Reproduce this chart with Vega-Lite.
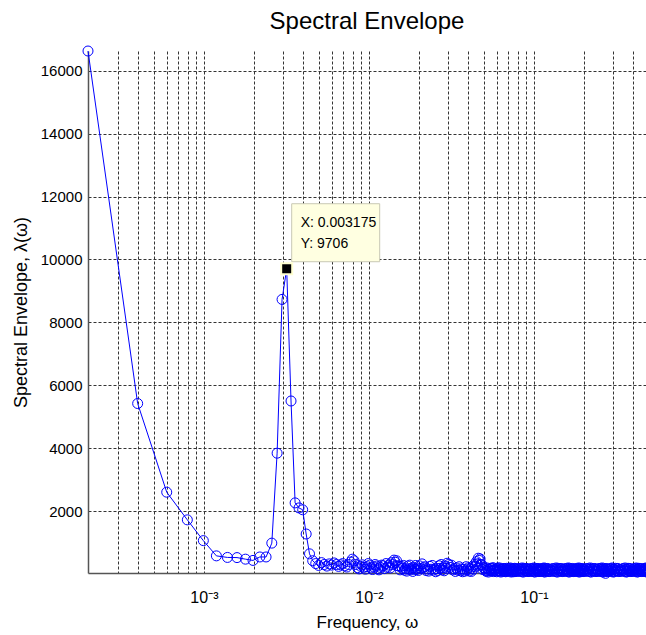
{
"$schema": "https://vega.github.io/schema/vega-lite/v6.json",
"width": 558, "height": 522,
"autosize": {"type": "none"},
"padding": {"left": 88, "top": 51, "right": 0, "bottom": 62},
"background": "white",
"config": {"view": {"stroke": null}, "font": "Liberation Sans"},
"title": {"text": "Spectral Envelope", "fontSize": 24, "font": "Liberation Sans", "fontWeight": "normal", "color": "black", "anchor": "middle", "frame": "group", "offset": 10},
"datasets": {
"env": [
{"f":0.000198413,"s":16630},{"f":0.000396825,"s":5420},{"f":0.000595238,"s":2600},{"f":0.000793651,"s":1720},{"f":0.000992063,"s":1060},
{"f":0.00119048,"s":575},{"f":0.00138889,"s":525},{"f":0.0015873,"s":520},{"f":0.00178571,"s":470},{"f":0.00198413,"s":430},
{"f":0.00218254,"s":540},{"f":0.00238095,"s":540},{"f":0.00257937,"s":980},{"f":0.00277778,"s":3840},{"f":0.00297619,"s":8730},
{"f":0.0031746,"s":9706},{"f":0.00337302,"s":5500},{"f":0.00357143,"s":2260},{"f":0.00376984,"s":2100},{"f":0.00396825,"s":2040},
{"f":0.00416667,"s":1270},{"f":0.00436508,"s":640},{"f":0.00456349,"s":420},{"f":0.0047619,"s":330},{"f":0.00496032,"s":270},
{"f":0.00515873,"s":360},{"f":0.00535714,"s":300},{"f":0.00555556,"s":250},{"f":0.00575397,"s":320},{"f":0.00595238,"s":280},
{"f":0.00615079,"s":350},{"f":0.0063492,"s":300},{"f":0.00654762,"s":240},{"f":0.00674603,"s":290},{"f":0.00694444,"s":330},
{"f":0.00714286,"s":260},{"f":0.00734127,"s":220},{"f":0.00753968,"s":300},{"f":0.0077381,"s":380},{"f":0.00793651,"s":470},
{"f":0.00813492,"s":420},{"f":0.00833333,"s":300},{"f":0.00853175,"s":200},{"f":0.00873016,"s":160},{"f":0.00892857,"s":240},
{"f":0.00912698,"s":290},{"f":0.0093254,"s":210},{"f":0.00952381,"s":150},{"f":0.00972222,"s":230},{"f":0.00992063,"s":330},
{"f":0.01011905,"s":280},{"f":0.01031746,"s":190},{"f":0.01051587,"s":140},{"f":0.01071429,"s":220},{"f":0.0109127,"s":300},
{"f":0.01111111,"s":250},{"f":0.01130952,"s":170},{"f":0.01150794,"s":130},{"f":0.01170635,"s":210},{"f":0.01190476,"s":280},
{"f":0.0122,"s":260},{"f":0.01245,"s":170},{"f":0.0127,"s":330},{"f":0.01295,"s":210},{"f":0.0132,"s":280},
{"f":0.01345,"s":190},{"f":0.0137,"s":360},{"f":0.01395,"s":300},{"f":0.0142,"s":440},{"f":0.01445,"s":370},
{"f":0.0147,"s":420},{"f":0.01495,"s":260},{"f":0.0152,"s":250},{"f":0.01545,"s":130},{"f":0.0157,"s":240},
{"f":0.01595,"s":180},{"f":0.0162,"s":270},{"f":0.01645,"s":120},{"f":0.0167,"s":170},{"f":0.01695,"s":90},
{"f":0.0172,"s":250},{"f":0.01745,"s":160},{"f":0.0177,"s":280},{"f":0.01795,"s":130},{"f":0.0182,"s":190},
{"f":0.01845,"s":80},{"f":0.0187,"s":200},{"f":0.01895,"s":150},{"f":0.0192,"s":270},{"f":0.01945,"s":140},
{"f":0.0197,"s":190},{"f":0.01995,"s":110},
{"f":0.0202,"s":260},{"f":0.0206,"s":170},{"f":0.021,"s":320},{"f":0.0214,"s":200},{"f":0.0218,"s":230},
{"f":0.0222,"s":110},{"f":0.0226,"s":160},{"f":0.023,"s":90},{"f":0.0234,"s":240},{"f":0.0238,"s":150},
{"f":0.0242,"s":270},{"f":0.0246,"s":120},{"f":0.025,"s":160},{"f":0.0254,"s":70},{"f":0.0258,"s":170},
{"f":0.0262,"s":110},{"f":0.0266,"s":260},{"f":0.027,"s":180},{"f":0.0274,"s":300},{"f":0.0278,"s":130},
{"f":0.0282,"s":200},{"f":0.0286,"s":100},{"f":0.029,"s":250},{"f":0.0294,"s":180},{"f":0.0298,"s":340},
{"f":0.0304,"s":300},{"f":0.031,"s":210},{"f":0.0316,"s":280},{"f":0.0322,"s":130},{"f":0.0328,"s":170},
{"f":0.0334,"s":80},{"f":0.034,"s":190},{"f":0.0346,"s":120},{"f":0.0352,"s":230},{"f":0.0358,"s":100},
{"f":0.0364,"s":160},{"f":0.037,"s":70},{"f":0.0376,"s":150},{"f":0.0382,"s":90},{"f":0.0388,"s":230},
{"f":0.0394,"s":130},{"f":0.04,"s":190},{"f":0.0406,"s":90},{"f":0.0412,"s":160},{"f":0.0418,"s":80},
{"f":0.0424,"s":230},{"f":0.043,"s":150},{"f":0.0436,"s":300},{"f":0.0442,"s":240},{"f":0.0448,"s":390},
{"f":0.0454,"s":320},{"f":0.046,"s":500},{"f":0.0466,"s":430},{"f":0.0472,"s":480},{"f":0.0478,"s":300},
{"f":0.0484,"s":290},{"f":0.049,"s":140},{"f":0.0496,"s":200},
{"f":0.0505,"s":170},{"f":0.0515,"s":80},{"f":0.0525,"s":150},{"f":0.0535,"s":100},{"f":0.0545,"s":180},
{"f":0.0555,"s":90},{"f":0.0565,"s":200},{"f":0.0575,"s":110},{"f":0.0585,"s":160},{"f":0.0595,"s":70},
{"f":0.0605,"s":190},{"f":0.0615,"s":100},{"f":0.0625,"s":150},{"f":0.0635,"s":80},{"f":0.0645,"s":170},
{"f":0.0655,"s":90},{"f":0.0665,"s":140},{"f":0.0675,"s":70},{"f":0.0685,"s":180},{"f":0.0695,"s":100},
{"f":0.0705,"s":160},{"f":0.0715,"s":80},{"f":0.0725,"s":170},{"f":0.0735,"s":90},{"f":0.0745,"s":150},
{"f":0.0755,"s":70},{"f":0.0765,"s":180},{"f":0.0775,"s":100},{"f":0.0785,"s":160},{"f":0.0795,"s":80},
{"f":0.051,"s":110},{"f":0.052,"s":190},{"f":0.053,"s":60},{"f":0.054,"s":140},{"f":0.055,"s":100},
{"f":0.056,"s":175},{"f":0.057,"s":75},{"f":0.058,"s":130},{"f":0.059,"s":95},{"f":0.06,"s":165},
{"f":0.061,"s":110},{"f":0.062,"s":190},{"f":0.063,"s":60},{"f":0.064,"s":140},{"f":0.065,"s":100},
{"f":0.066,"s":175},{"f":0.067,"s":75},{"f":0.068,"s":130},{"f":0.069,"s":95},{"f":0.07,"s":165},
{"f":0.071,"s":110},{"f":0.072,"s":190},{"f":0.073,"s":60},{"f":0.074,"s":140},{"f":0.075,"s":100},
{"f":0.076,"s":175},{"f":0.077,"s":75},{"f":0.078,"s":130},{"f":0.079,"s":95},
{"f":0.081,"s":170},{"f":0.0825,"s":80},{"f":0.084,"s":150},{"f":0.0855,"s":70},{"f":0.087,"s":180},
{"f":0.0885,"s":100},{"f":0.09,"s":160},{"f":0.0915,"s":80},{"f":0.093,"s":140},{"f":0.0945,"s":90},
{"f":0.096,"s":170},{"f":0.0975,"s":80},{"f":0.099,"s":150},{"f":0.1005,"s":70},{"f":0.102,"s":180},
{"f":0.1035,"s":100},{"f":0.105,"s":160},{"f":0.1065,"s":80},{"f":0.108,"s":140},{"f":0.1095,"s":90},
{"f":0.111,"s":170},{"f":0.1125,"s":80},{"f":0.114,"s":150},{"f":0.1155,"s":70},{"f":0.117,"s":180},
{"f":0.1185,"s":100},
{"f":0.08175,"s":165},{"f":0.08325,"s":110},{"f":0.08475,"s":190},{"f":0.08625,"s":60},{"f":0.08775,"s":140},
{"f":0.08925,"s":100},{"f":0.09075,"s":175},{"f":0.09225,"s":75},{"f":0.09375,"s":130},{"f":0.09525,"s":95},
{"f":0.09675,"s":165},{"f":0.09825,"s":110},{"f":0.09975,"s":190},{"f":0.10125,"s":60},{"f":0.10275,"s":140},
{"f":0.10425,"s":100},{"f":0.10575,"s":175},{"f":0.10725,"s":75},{"f":0.10875,"s":130},{"f":0.11025,"s":95},
{"f":0.11175,"s":165},{"f":0.11325,"s":110},{"f":0.11475,"s":190},{"f":0.11625,"s":60},{"f":0.11775,"s":140},
{"f":0.11925,"s":100},
{"f":0.12,"s":160},{"f":0.1225,"s":80},{"f":0.125,"s":140},{"f":0.1275,"s":90},{"f":0.13,"s":170},
{"f":0.1325,"s":80},{"f":0.135,"s":150},{"f":0.1375,"s":70},{"f":0.14,"s":180},{"f":0.1425,"s":100},
{"f":0.145,"s":160},{"f":0.1475,"s":80},{"f":0.15,"s":140},{"f":0.1525,"s":90},{"f":0.155,"s":170},
{"f":0.1575,"s":80},{"f":0.16,"s":150},{"f":0.1625,"s":70},{"f":0.165,"s":180},{"f":0.1675,"s":100},
{"f":0.17,"s":160},{"f":0.1725,"s":80},{"f":0.175,"s":140},{"f":0.1775,"s":90},{"f":0.18,"s":170},
{"f":0.1825,"s":80},{"f":0.185,"s":150},{"f":0.1875,"s":70},{"f":0.19,"s":180},{"f":0.1925,"s":100},
{"f":0.195,"s":160},{"f":0.1975,"s":80},
{"f":0.12125,"s":175},{"f":0.12375,"s":75},{"f":0.12625,"s":130},{"f":0.12875,"s":95},{"f":0.13125,"s":165},
{"f":0.13375,"s":110},{"f":0.13625,"s":190},{"f":0.13875,"s":60},{"f":0.14125,"s":140},{"f":0.14375,"s":100},
{"f":0.14625,"s":175},{"f":0.14875,"s":75},{"f":0.15125,"s":130},{"f":0.15375,"s":95},{"f":0.15625,"s":165},
{"f":0.15875,"s":110},{"f":0.16125,"s":190},{"f":0.16375,"s":60},{"f":0.16625,"s":140},{"f":0.16875,"s":100},
{"f":0.17125,"s":175},{"f":0.17375,"s":75},{"f":0.17625,"s":130},{"f":0.17875,"s":95},{"f":0.18125,"s":165},
{"f":0.18375,"s":110},{"f":0.18625,"s":190},{"f":0.18875,"s":60},{"f":0.19125,"s":140},{"f":0.19375,"s":100},
{"f":0.19625,"s":175},{"f":0.19875,"s":75},
{"f":0.2,"s":140},{"f":0.204,"s":90},{"f":0.208,"s":170},{"f":0.212,"s":80},{"f":0.216,"s":150},
{"f":0.22,"s":70},{"f":0.224,"s":180},{"f":0.228,"s":100},{"f":0.232,"s":160},{"f":0.236,"s":80},
{"f":0.24,"s":140},{"f":0.244,"s":90},{"f":0.248,"s":170},{"f":0.252,"s":80},{"f":0.256,"s":150},
{"f":0.26,"s":70},{"f":0.264,"s":180},{"f":0.268,"s":100},{"f":0.272,"s":20},{"f":0.276,"s":160},
{"f":0.28,"s":80},{"f":0.284,"s":140},{"f":0.288,"s":90},{"f":0.292,"s":170},{"f":0.296,"s":80},
{"f":0.202,"s":130},{"f":0.206,"s":95},{"f":0.21,"s":165},{"f":0.214,"s":110},{"f":0.218,"s":190},
{"f":0.222,"s":60},{"f":0.226,"s":140},{"f":0.23,"s":100},{"f":0.234,"s":175},{"f":0.238,"s":75},
{"f":0.242,"s":130},{"f":0.246,"s":95},{"f":0.25,"s":165},{"f":0.254,"s":110},{"f":0.258,"s":190},
{"f":0.262,"s":60},{"f":0.266,"s":140},{"f":0.27,"s":100},{"f":0.274,"s":175},{"f":0.278,"s":75},
{"f":0.282,"s":130},{"f":0.286,"s":95},{"f":0.29,"s":165},{"f":0.294,"s":110},{"f":0.298,"s":190},
{"f":0.3,"s":150},{"f":0.306,"s":70},{"f":0.312,"s":180},{"f":0.318,"s":100},{"f":0.324,"s":160},
{"f":0.33,"s":80},{"f":0.336,"s":140},{"f":0.342,"s":90},{"f":0.348,"s":170},{"f":0.354,"s":80},
{"f":0.36,"s":150},{"f":0.366,"s":70},{"f":0.372,"s":180},{"f":0.378,"s":100},{"f":0.384,"s":160},
{"f":0.39,"s":80},{"f":0.396,"s":140},{"f":0.402,"s":90},{"f":0.408,"s":170},{"f":0.414,"s":80},
{"f":0.42,"s":150},{"f":0.426,"s":70},{"f":0.432,"s":180},{"f":0.438,"s":100},{"f":0.444,"s":160},
{"f":0.45,"s":80},{"f":0.456,"s":140},{"f":0.462,"s":90},{"f":0.468,"s":170},{"f":0.474,"s":80},
{"f":0.48,"s":150},{"f":0.486,"s":70},{"f":0.492,"s":180},{"f":0.498,"s":100},
{"f":0.303,"s":60},{"f":0.309,"s":140},{"f":0.315,"s":100},{"f":0.321,"s":175},{"f":0.327,"s":75},
{"f":0.333,"s":130},{"f":0.339,"s":95},{"f":0.345,"s":165},{"f":0.351,"s":110},{"f":0.357,"s":190},
{"f":0.363,"s":60},{"f":0.369,"s":140},{"f":0.375,"s":100},{"f":0.381,"s":175},{"f":0.387,"s":75},
{"f":0.393,"s":130},{"f":0.399,"s":95},{"f":0.405,"s":165},{"f":0.411,"s":110},{"f":0.417,"s":190},
{"f":0.423,"s":60},{"f":0.429,"s":140},{"f":0.435,"s":100},{"f":0.441,"s":175},{"f":0.447,"s":75},
{"f":0.453,"s":130},{"f":0.459,"s":95},{"f":0.465,"s":165},{"f":0.471,"s":110},{"f":0.477,"s":190},
{"f":0.483,"s":60},{"f":0.489,"s":140},{"f":0.495,"s":100}
],
"tip": [{"f": 0.003175, "s": 9706, "lx": "X: 0.003175", "ly": "Y: 9706"}]
},
"data": {"name": "env"},
"encoding": {
  "x": {"field": "f", "type": "quantitative",
        "scale": {"type": "log", "domain": [0.000198413, 0.4779], "nice": false},
        "axis": {"values": [0.0003,0.0004,0.0005,0.0006,0.0007,0.0008,0.0009,0.001,0.002,0.003,0.004,0.005,0.006,0.007,0.008,0.009,0.01,0.02,0.03,0.04,0.05,0.06,0.07,0.08,0.09,0.1,0.2,0.3,0.4],
                 "grid": true, "gridColor": "#333", "gridDash": [3, 2], "gridWidth": 1,
                 "ticks": false, "domainColor": "#555", "domainWidth": 1.5,
                 "labelExpr": "datum.value == 0.001 ? '10⁻³' : datum.value == 0.01 ? '10⁻²' : datum.value == 0.1 ? '10⁻¹' : ''",
                 "labelFontSize": 16, "labelColor": "black", "labelPadding": 16, "labelOverlap": false, "labelFlush": false,
                 "title": "Frequency, ω", "titleFontSize": 17, "titleFontWeight": "normal", "titleColor": "black", "titlePadding": 9}},
  "y": {"field": "s", "type": "quantitative",
        "scale": {"domain": [30, 16630], "nice": false, "zero": false},
        "axis": {"values": [2000,4000,6000,8000,10000,12000,14000,16000], "format": "d",
                 "grid": true, "gridColor": "#333", "gridDash": [3, 2], "gridWidth": 1,
                 "ticks": false, "domainColor": "#555", "domainWidth": 1.5,
                 "labelFontSize": 15, "labelColor": "black", "labelPadding": 6,
                 "title": "Spectral Envelope, λ(ω)", "titleFontSize": 18, "titleFontWeight": "normal", "titleColor": "black", "titlePadding": 10}}
},
"layer": [
  {"mark": {"type": "line", "color": "#0000ff", "strokeWidth": 1}},
  {"mark": {"type": "point", "shape": "circle", "filled": false, "size": 100, "color": "#0000ff", "strokeWidth": 1, "opacity": 1}},
  {"data": {"values": [{}]}, "mark": {"type": "rule", "color": "#555", "strokeWidth": 1.5},
   "encoding": {"x": {"datum": 0.000198413, "type": "quantitative"}, "x2": {"datum": 0.4779}, "y": {"datum": 16630, "type": "quantitative"}}},
  {"data": {"name": "tip"}, "mark": {"type": "rect", "width": 88, "height": 58, "xOffset": 49, "yOffset": -36, "fill": "#ffffe1", "stroke": "#c8c8b4", "strokeWidth": 1}},
  {"data": {"name": "tip"}, "mark": {"type": "square", "size": 121, "filled": true, "fill": "black", "stroke": "#ffffd0", "strokeWidth": 2, "opacity": 1}},
  {"data": {"name": "tip"}, "mark": {"type": "text", "align": "left", "baseline": "alphabetic", "dx": 14, "dy": -42, "fontSize": 14, "color": "black", "font": "Liberation Sans"},
   "encoding": {"text": {"field": "lx"}}},
  {"data": {"name": "tip"}, "mark": {"type": "text", "align": "left", "baseline": "alphabetic", "dx": 14, "dy": -21, "fontSize": 14, "color": "black", "font": "Liberation Sans"},
   "encoding": {"text": {"field": "ly"}}}
]
}
